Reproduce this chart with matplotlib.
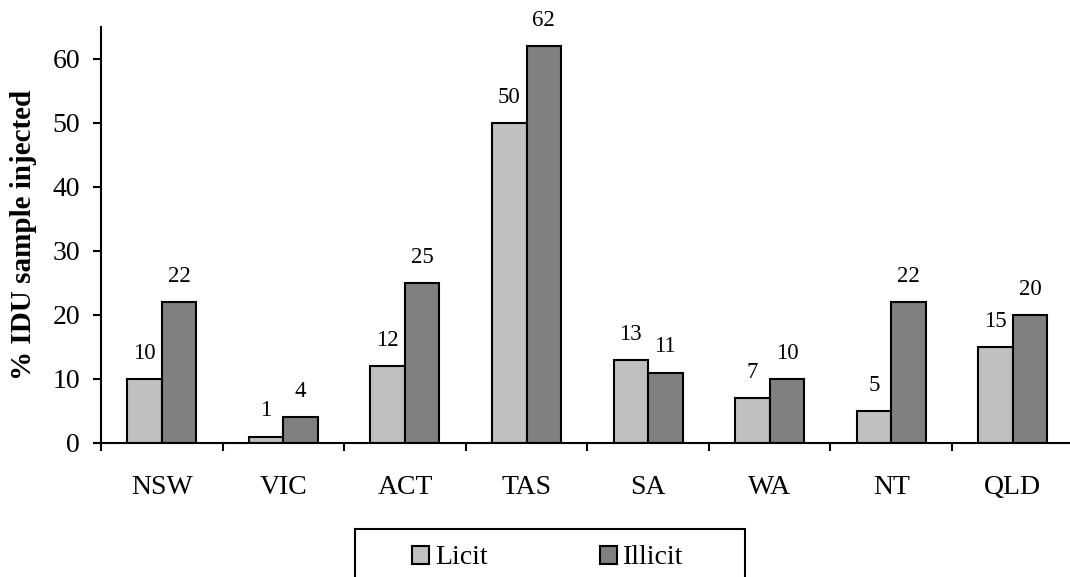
import numpy as np
import matplotlib.pyplot as plt
from matplotlib.patches import Rectangle, Patch

# data
states = ["NSW", "VIC", "ACT", "TAS", "SA", "WA", "NT", "QLD"]
licit = [10, 1, 12, 50, 13, 7, 5, 15]
illicit = [22, 4, 25, 62, 11, 10, 22, 20]

plt.rcParams['font.family'] = ['Liberation Serif', 'DejaVu Serif']

fig = plt.figure(figsize=(10.70, 5.77), dpi=100)
ax = fig.add_axes([101 / 1070, 1 - 443 / 577, 972.6 / 1070, (443 - 27) / 577])

x = np.arange(len(states))
w = 0.284
b1 = ax.bar(x - w / 2, licit, w, color='#C0C0C0', edgecolor='black', linewidth=1.5)
b2 = ax.bar(x + w / 2, illicit, w, color='#808080', edgecolor='black', linewidth=1.5)

for bars, vals in [(b1, licit), (b2, illicit)]:
    for r, v in zip(bars, vals):
        ax.annotate(str(v), (r.get_x() + r.get_width() / 2, v), xytext=(0, 11),
                    textcoords='offset points', ha='center', va='bottom', fontsize=16.5)

ax.set_xlim(-0.5, 7.5)
ax.set_ylim(0, 65)
ax.set_yticks(range(0, 61, 10))
ax.set_xticks(x)
ax.set_xticklabels(states)
ax.set_xticks(np.arange(-0.5, 8, 1), minor=True)
ax.tick_params(axis='x', which='major', length=0, pad=23, labelsize=20)
ax.tick_params(axis='x', which='minor', length=6, width=1.5, direction='out')
ax.tick_params(axis='y', length=6, width=1.5, direction='out', pad=9, labelsize=20)

for s in ['top', 'right']:
    ax.spines[s].set_visible(False)
for s in ['left', 'bottom']:
    ax.spines[s].set_linewidth(1.5)

ax.set_ylabel('% IDU sample injected', fontsize=21, fontweight='bold')
ax.yaxis.set_label_coords(-0.066, 0.50)

# legend box (runs off the bottom edge like the original)
fig.add_artist(Rectangle((355 / 1070, -0.05), 390 / 1070, 1 - 529 / 577 + 0.05,
                         transform=fig.transFigure, fill=False, edgecolor='black', linewidth=1.5))
handles = [Patch(facecolor='#C0C0C0', edgecolor='black', linewidth=1.5, label='Licit'),
           Patch(facecolor='#808080', edgecolor='black', linewidth=1.5, label='Illicit')]
fig.legend(handles=handles, loc='center', bbox_to_anchor=(548 / 1070, 1 - 558 / 577), ncol=2,
           frameon=False, fontsize=20, handlelength=0.6, handleheight=0.6,
           handletextpad=0.22, columnspacing=4.05)

fig.savefig('out.png', dpi=100)
